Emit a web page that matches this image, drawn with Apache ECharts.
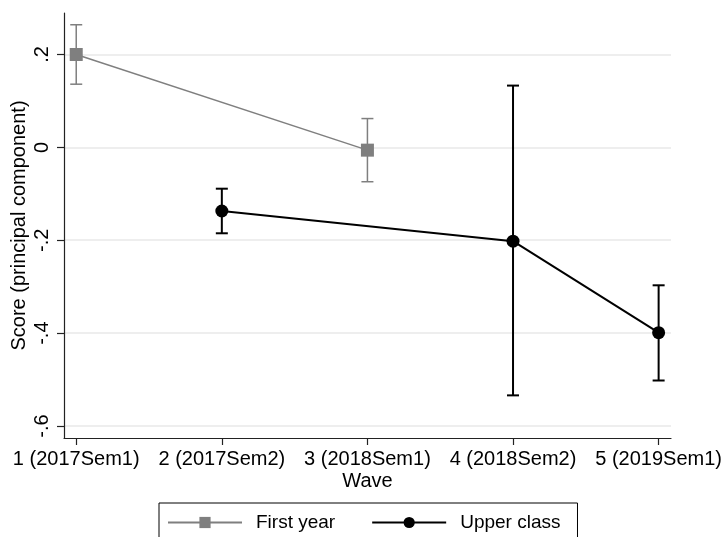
<!DOCTYPE html>
<html>
<head>
<meta charset="utf-8">
<script src="https://cdn.jsdelivr.net/npm/echarts@6/dist/echarts.min.js"></script>
<style>html,body{margin:0;padding:0;background:#fff}#c{width:723px;height:537px}</style>
</head>
<body>
<div id="c"></div>
<script>
var waveLabels = ['1 (2017Sem1)', '2 (2017Sem2)', '3 (2018Sem1)', '4 (2018Sem2)', '5 (2019Sem1)'];
var waveTicks = [1, 2, 3, 4, 5];
var yTicks = [-0.6, -0.4, -0.2, 0, 0.2];
var firstYearWave = [1, 3];
var firstYearMean = [0.200, -0.006];
var firstYearLow = [0.136, -0.074];
var firstYearHigh = [0.264, 0.062];
var upperWave = [2, 4, 5];
var upperMean = [-0.137, -0.202, -0.399];
var upperLow = [-0.185, -0.534, -0.502];
var upperHigh = [-0.089, 0.133, -0.297];

var FONT = 'Liberation Sans';
var FS = 20;
var GRAY = '#7f7f7f';
var BLACK = '#000000';

function pts(xs, ys) { return xs.map(function (x, i) { return [x, ys[i]]; }); }
function bars(xs, lo, hi) { return xs.map(function (x, i) { return [x, lo[i], hi[i]]; }); }

function errRender(color, width) {
  return function (params, api) {
    var x = api.value(0);
    var lo = api.coord([x, api.value(1)]);
    var hi = api.coord([x, api.value(2)]);
    var cap = 6;
    var style = { stroke: color, lineWidth: width };
    return {
      type: 'group',
      children: [
        { type: 'line', shape: { x1: lo[0], y1: lo[1], x2: hi[0], y2: hi[1] }, style: style },
        { type: 'line', shape: { x1: lo[0] - cap, y1: lo[1], x2: lo[0] + cap, y2: lo[1] }, style: style },
        { type: 'line', shape: { x1: hi[0] - cap, y1: hi[1], x2: hi[0] + cap, y2: hi[1] }, style: style }
      ]
    };
  };
}

var chart = echarts.init(document.getElementById('c'), null, { renderer: 'canvas' });
chart.setOption({
  animation: false,
  textStyle: { fontFamily: FONT },
  grid: { left: 64, right: 52, top: 13, bottom: 99, containLabel: false, outerBoundsMode: 'none' },
  xAxis: {
    type: 'value', min: 0.916, max: 5.085,
    name: 'Wave', nameLocation: 'middle', nameGap: 33, nameMoveOverlap: false,
    nameTextStyle: { fontFamily: FONT, fontSize: FS, color: '#000' },
    axisLine: { onZero: false, lineStyle: { color: '#222', width: 1.2 } },
    axisTick: { show: true, length: 7, customValues: waveTicks, lineStyle: { color: '#222', width: 1.2 } },
    axisLabel: {
      customValues: waveTicks, margin: 11, color: '#000', fontFamily: FONT, fontSize: FS,
      formatter: function (v) { return waveLabels[Math.round(v) - 1]; }
    },
    splitLine: { show: false }
  },
  yAxis: {
    type: 'value', min: -0.6258, max: 0.2893,
    name: 'Score (principal component)', nameLocation: 'middle', nameGap: 35, nameMoveOverlap: false,
    nameTextStyle: { fontFamily: FONT, fontSize: FS, color: '#000' },
    axisLine: { show: true, onZero: false, lineStyle: { color: '#222', width: 1.2 } },
    axisTick: { show: true, length: 7, customValues: yTicks, lineStyle: { color: '#222', width: 1.2 } },
    axisLabel: {
      customValues: yTicks, rotate: 90, margin: 12, color: '#000', fontFamily: FONT, fontSize: FS,
      formatter: function (v) {
        var r = Math.round(v * 10) / 10;
        if (r === 0) return '0';
        var s = Math.abs(r).toString().replace(/^0/, '');
        return (r < 0 ? '-' : '') + s;
      }
    },
    splitLine: { show: true, lineStyle: { color: '#e8e8e8', width: 1.5 } }
  },
  legend: {
    left: 159, top: 503,
    padding: [10, 17, 24, 8],
    borderColor: '#000', borderWidth: 1,
    itemWidth: 74, itemHeight: 14, itemGap: 36,
    textStyle: { fontFamily: FONT, fontSize: 19, color: '#000', padding: [0, 0, 0, 9] },
    data: ['First year', 'Upper class']
  },
  series: [
    {
      type: 'custom', name: 'fyErr', renderItem: errRender(GRAY, 1.5),
      data: bars(firstYearWave, firstYearLow, firstYearHigh), z: 1, silent: true
    },
    {
      type: 'custom', name: 'ucErr', renderItem: errRender(BLACK, 2),
      data: bars(upperWave, upperLow, upperHigh), z: 1, silent: true
    },
    {
      type: 'line', name: 'First year', data: pts(firstYearWave, firstYearMean),
      symbol: 'rect', symbolSize: 13, showSymbol: true,
      lineStyle: { color: GRAY, width: 1.5 }, itemStyle: { color: GRAY }, color: GRAY, z: 3
    },
    {
      type: 'line', name: 'Upper class', data: pts(upperWave, upperMean),
      symbol: 'circle', symbolSize: 13, showSymbol: true,
      lineStyle: { color: BLACK, width: 2 }, itemStyle: { color: BLACK }, color: BLACK, z: 3
    }
  ]
});
</script>
</body>
</html>
